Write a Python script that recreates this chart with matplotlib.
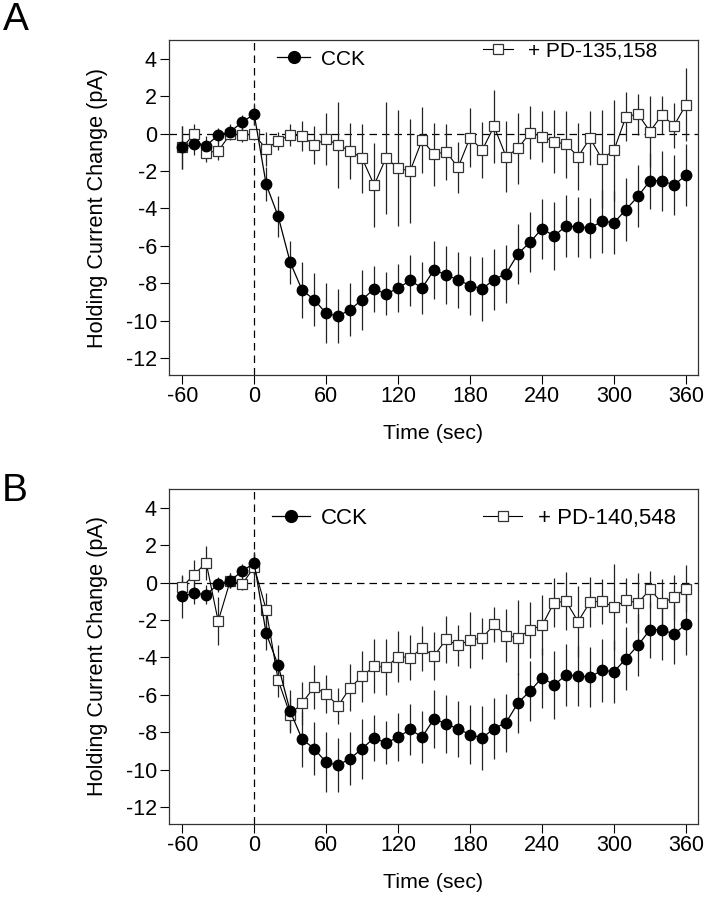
import matplotlib
matplotlib.use("Agg")
import matplotlib.pyplot as plt
from matplotlib.lines import Line2D

plt.rcParams['font.family'] = ['Liberation Sans', 'DejaVu Sans']
plt.rcParams['axes.unicode_minus'] = False

time_sec = [-60, -50, -40, -30, -20, -10, 0, 10, 20, 30, 40, 50, 60, 70, 80, 90, 100,
            110, 120, 130, 140, 150, 160, 170, 180, 190, 200, 210, 220, 230, 240, 250,
            260, 270, 280, 290, 300, 310, 320, 330, 340, 350, 360]

cck_mean = [-0.73, -0.57, -0.65, -0.08, 0.10, 0.61, 1.04, -2.71, -4.42, -6.87, -8.37,
            -8.87, -9.61, -9.75, -9.41, -8.87, -8.30, -8.57, -8.26, -7.85, -8.25, -7.28,
            -7.55, -7.82, -8.12, -8.30, -7.80, -7.48, -6.42, -5.80, -5.08, -5.47, -4.94,
            -4.99, -5.04, -4.69, -4.76, -4.06, -3.35, -2.52, -2.52, -2.75, -2.22]
cck_err = [1.15, 0.55, 0.5, 0.4, 0.4, 0.4, 0.6, 0.9, 1.1, 1.15, 1.5, 1.4, 1.6, 1.45, 1.4,
           1.6, 1.25, 1.15, 1.3, 1.35, 1.4, 1.55, 1.55, 1.5, 1.6, 1.7, 1.65, 1.55, 1.6, 1.6,
           1.6, 1.8, 1.65, 1.6, 1.6, 1.7, 1.7, 1.7, 1.65, 1.5, 1.6, 1.6, 1.65]

pd135_mean = [-0.73, -0.04, -1.02, -0.93, -0.04, -0.07, -0.04, -0.82, -0.39, -0.07, -0.13,
              -0.61, -0.29, -0.61, -0.93, -1.32, -2.75, -1.29, -1.86, -2.0, -0.34, -1.11,
              -0.97, -1.81, -0.21, -0.89, 0.38, -1.23, -0.79, 0.05, -0.16, -0.43, -0.57,
              -1.23, -0.25, -1.36, -0.88, 0.91, 1.04, 0.11, 1.0, 0.43, 1.54]
pd135_err = [1.15, 0.55, 0.5, 0.5, 0.3, 0.4, 0.3, 0.9, 0.5, 0.6, 0.8, 1.0, 1.4, 2.3, 1.5,
             1.85, 2.25, 3.0, 3.1, 2.8, 1.75, 1.7, 1.5, 1.35, 1.55, 1.5, 1.95, 1.9, 1.9, 1.4,
             1.35, 1.7, 1.8, 1.8, 1.45, 2.6, 2.7, 1.3, 1.1, 1.9, 1.0, 1.2, 1.95]

pd140_mean = [-0.23, 0.43, 1.06, -2.06, 0.09, -0.09, 0.84, -1.45, -5.22, -7.05, -6.44,
              -5.58, -5.96, -6.58, -5.62, -5.01, -4.47, -4.53, -3.95, -4.01, -3.51, -3.92,
              -3.04, -3.36, -3.06, -2.97, -2.24, -2.83, -2.95, -2.52, -2.29, -1.07, -1.0,
              -2.08, -1.04, -1.0, -1.32, -0.95, -1.09, -0.36, -1.09, -0.79, -0.32]
pd140_err = [0.6, 0.8, 0.9, 1.3, 0.4, 0.3, 0.8, 0.9, 0.9, 0.9, 1.15, 1.2, 1.0, 0.95, 1.25,
             1.35, 1.45, 1.5, 1.35, 1.2, 1.2, 1.3, 1.25, 1.1, 1.5, 1.1, 0.95, 1.4, 2.0, 1.5,
             1.6, 1.3, 1.55, 1.9, 1.35, 1.2, 2.3, 1.2, 1.6, 1.0, 1.3, 1.2, 1.25]

x_ticks = [-60, 0, 60, 120, 180, 240, 300, 360]
y_ticks = [-12, -10, -8, -6, -4, -2, 0, 2, 4]

W, H = 707, 900
fig = plt.figure(figsize=(W / 100, H / 100), dpi=100)


def make_panel(rect, drug_mean, drug_err, drug_label, legfs, leg_y_c, leg_y_d,
               hl_c, hl_d, x_c, x_d):
    ax = fig.add_axes(rect)
    ax.set_xlim(-71, 370)
    ax.set_ylim(-12.9, 5.0)
    ax.axhline(0, color='black', lw=0.9, ls=(0, (6, 4)), zorder=1)
    ax.axvline(0, color='black', lw=0.9, ls=(0, (6, 4)), zorder=1)
    # drug series (open squares)
    ax.errorbar(time_sec, drug_mean, yerr=drug_err, fmt='none', ecolor='#222222',
                elinewidth=0.9, capsize=0, zorder=2)
    ax.plot(time_sec, drug_mean, color='black', lw=0.8, zorder=3)
    ax.plot(time_sec, drug_mean, ls='none', marker='s', ms=7, mfc='white',
            mec='#333333', mew=0.9, zorder=4)
    # CCK series (filled circles)
    ax.errorbar(time_sec, cck_mean, yerr=cck_err, fmt='none', ecolor='#222222',
                elinewidth=0.9, capsize=0, zorder=2)
    ax.plot(time_sec, cck_mean, color='black', lw=0.9, zorder=5)
    ax.plot(time_sec, cck_mean, ls='none', marker='o', ms=7.5, mfc='black',
            mec='black', zorder=6)

    ax.set_xticks(x_ticks)
    ax.set_yticks(y_ticks)
    ax.tick_params(direction='out', length=6.5, width=0.8, labelsize=15.5,
                   top=False, right=False)
    ax.tick_params(axis='x', pad=1.5)
    ax.tick_params(axis='y', pad=2.2)
    for s in ax.spines.values():
        s.set_linewidth(0.9)
        s.set_color('#333333')
    ax.set_ylabel('Holding Current Change (pA)', fontsize=15.6)
    ax.set_xlabel('Time (sec)', fontsize=15.4)
    ax.yaxis.set_label_coords(-0.116, 0.5)
    ax.xaxis.set_label_coords(0.5, -0.146)

    h1 = Line2D([], [], color='black', lw=0.9, marker='o', ms=8.5, mfc='black', mec='black')
    h2 = Line2D([], [], color='black', lw=0.8, marker='s', ms=7, mfc='white',
                mec='#333333', mew=0.9)
    l1 = ax.legend([h1], ['CCK'], loc='center left', bbox_to_anchor=(x_c, leg_y_c),
                   frameon=False, fontsize=legfs, handlelength=hl_c, handletextpad=0.5,
                   borderpad=0, borderaxespad=0)
    ax.add_artist(l1)
    ax.legend([h2], [drug_label], loc='center left', bbox_to_anchor=(x_d, leg_y_d),
              frameon=False, fontsize=legfs, handlelength=hl_d, handletextpad=0.7,
              borderpad=0, borderaxespad=0)
    return ax


axA = make_panel([169 / W, 1 - 375 / H, 529 / W, 335 / H], pd135_mean, pd135_err,
                 '+ PD-135,158', 15, 0.943, 0.967, 1.6, 1.45, 0.204, 0.594)
axB = make_panel([169 / W, 1 - 824 / H, 529 / W, 335 / H], pd140_mean, pd140_err,
                 '+ PD-140,548', 16, 0.913, 0.913, 1.7, 1.75, 0.195, 0.594)

fig.text(16 / W, 1 - 20 / H, 'A', fontsize=28, ha='center', va='center')
fig.text(15 / W, 1 - 491 / H, 'B', fontsize=28, ha='center', va='center')

fig.savefig('out.png', dpi=100)
